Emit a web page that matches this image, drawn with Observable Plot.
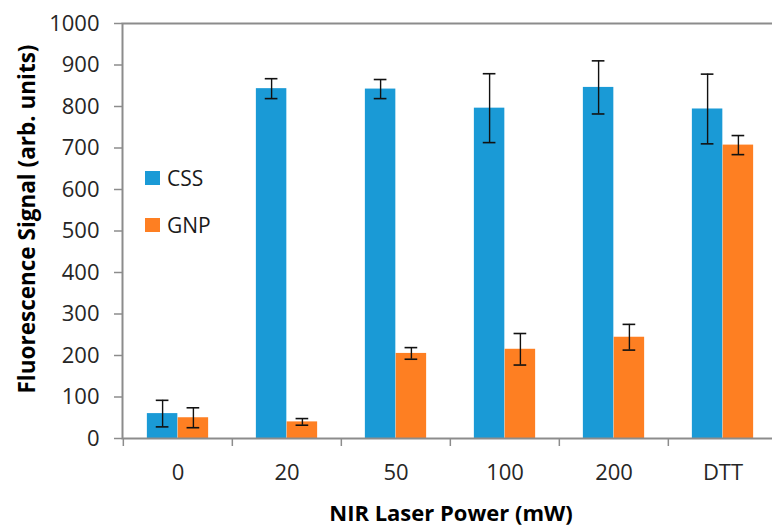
<!DOCTYPE html>
<html><head><meta charset="utf-8">
<script src="https://cdn.jsdelivr.net/npm/d3@7"></script>
<script src="https://cdn.jsdelivr.net/npm/@observablehq/plot@0.6"></script>
<style>
html,body{margin:0;padding:0;overflow:hidden;background:#fff;width:772px;height:527px}
#wrap{position:relative;width:778px;height:527px;font-family:"Open Sans",sans-serif}
.legend{position:absolute;left:145px;font-size:21px;color:#1a1a1a;display:flex;align-items:center;height:24px}
.legend span.sw{display:inline-block;width:15px;height:14px;margin-right:7px}
.ytitle{position:absolute;left:26px;top:219px;transform:translate(-50%,-50%) rotate(-90deg);white-space:nowrap;font-weight:bold;font-size:22.5px;color:#000}
.xtitle{position:absolute;left:451px;top:512px;transform:translate(-50%,-50%);white-space:nowrap;font-weight:bold;font-size:22px;color:#000}
</style>
</head><body><div id="wrap"></div>
<script>
const categories = ["0", "20", "50", "100", "200", "DTT"];
const seriesNames = ["CSS", "GNP"];
const cssValues = [60, 843, 842, 796, 846, 794];
const cssErrors = [32, 24, 23, 83, 64, 84];
const gnpValues = [50, 40, 205, 215, 244, 707];
const gnpErrors = [24, 8, 14, 38, 31, 23];
const yTicks = [0, 100, 200, 300, 400, 500, 600, 700, 800, 900, 1000];
const colors = ["#1a9ad6", "#fe7f22"];

const css = categories.map((c, i) => ({cat: c, v: cssValues[i], e: cssErrors[i]}));
const gnp = categories.map((c, i) => ({cat: c, v: gnpValues[i], e: gnpErrors[i]}));

const W = 778, ML = 122, MR = 0, MT = 23, MB = 89, H = 527;
const bw = (W - ML - MR) / categories.length;
const barW = 30.8;
const outer = (bw - 2 * barW) / 2;
const capW = 13;
const gray = "#8c8c8c";
const txt = "#262626";

function caps(data, centerOffset, key) {
  const cx = bw / 2 + centerOffset;
  return Plot.tickY(data, {x: "cat", y: key, stroke: "#111", strokeWidth: 1.6,
    insetLeft: cx - capW / 2, insetRight: bw - cx - capW / 2});
}

const chart = Plot.plot({
  width: W, height: H,
  marginLeft: ML, marginRight: MR, marginTop: MT, marginBottom: MB,
  style: {fontFamily: "Open Sans, sans-serif", background: "#fff", overflow: "visible"},
  x: {domain: categories, padding: 0, axis: null},
  y: {domain: [0, 1000], axis: null},
  marks: [
    Plot.barY(css, {x: "cat", y: "v", fill: colors[0], insetLeft: outer, insetRight: bw - outer - barW}),
    Plot.barY(gnp, {x: "cat", y: "v", fill: colors[1], insetLeft: outer + barW, insetRight: outer}),
    Plot.ruleX(css, {x: "cat", y1: d => d.v - d.e, y2: d => d.v + d.e, dx: -barW / 2, stroke: "#111", strokeWidth: 1.4}),
    Plot.ruleX(gnp, {x: "cat", y1: d => d.v - d.e, y2: d => d.v + d.e, dx: barW / 2, stroke: "#111", strokeWidth: 1.4}),
    caps(css.map(d => ({cat: d.cat, t: d.v + d.e})), -barW / 2, "t"),
    caps(css.map(d => ({cat: d.cat, t: d.v - d.e})), -barW / 2, "t"),
    caps(gnp.map(d => ({cat: d.cat, t: d.v + d.e})), barW / 2, "t"),
    caps(gnp.map(d => ({cat: d.cat, t: d.v - d.e})), barW / 2, "t"),
    Plot.frame({stroke: gray, strokeWidth: 2}),
    Plot.axisY({ticks: yTicks, tickSize: 8, tickPadding: 15, stroke: gray, strokeWidth: 1.5,
      fill: txt, fontSize: 22, label: null, tickFormat: d => String(d)}),
    Plot.axisX({tickSize: 0, tickPadding: 26, fill: txt, fontSize: 22, label: null}),
    Plot.axisX({tickSize: 8, tickFormat: () => "", dx: -bw / 2, stroke: gray, strokeWidth: 1.5, label: null})
  ]
});
const wrap = document.getElementById("wrap");
wrap.appendChild(chart);

seriesNames.forEach((s, i) => {
  const d = document.createElement("div");
  d.className = "legend";
  d.style.top = (166 + i * 47) + "px";
  d.innerHTML = `<span class="sw" style="background:${colors[i]}"></span>${s}`;
  wrap.appendChild(d);
});
const yt = document.createElement("div");
yt.className = "ytitle"; yt.textContent = "Fluorescence Signal (arb. units)";
wrap.appendChild(yt);
const xt = document.createElement("div");
xt.className = "xtitle"; xt.textContent = "NIR Laser Power (mW)";
wrap.appendChild(xt);
</script>
</body></html>
